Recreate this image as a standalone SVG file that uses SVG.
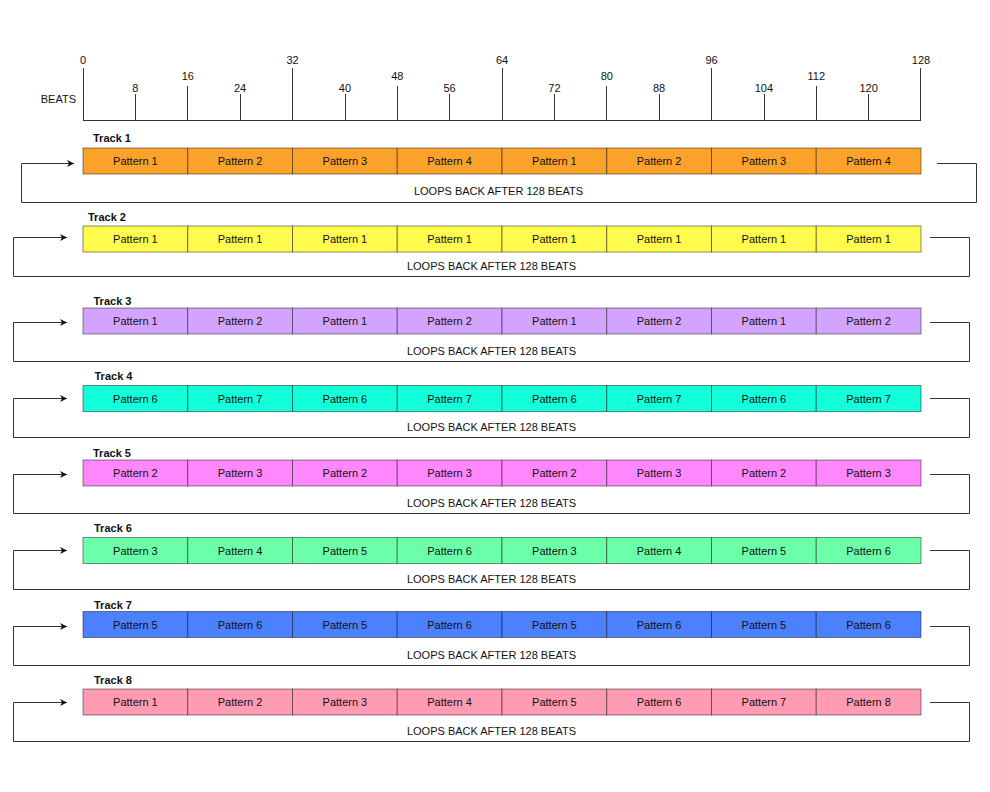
<svg xmlns="http://www.w3.org/2000/svg" width="990" height="792" viewBox="0 0 990 792">
<style>
  text { font-family: "Liberation Sans", Arial, sans-serif; font-size: 11px; fill: #111; }
  .mid { text-anchor: middle; }
  .lbl { font-weight: bold; }
  .tick { stroke: #333; stroke-width: 1; }
  .cell { stroke: #000; stroke-opacity: 0.45; stroke-width: 1; }
  .conn { fill: none; stroke: #333; stroke-width: 1; }
  .t1 { fill: #FBA22B; }
  .t2 { fill: #FFFA4E; }
  .t3 { fill: #D3A4FF; }
  .t4 { fill: #12FFDA; }
  .t5 { fill: #FF88FF; }
  .t6 { fill: #6BFFAA; }
  .t7 { fill: #4B80FF; }
  .t8 { fill: #FF9BB2; }
</style>
<defs>
  <marker id="arr" markerUnits="userSpaceOnUse" markerWidth="8" markerHeight="8" refX="7" refY="3.5" orient="auto">
    <path d="M0,0 L7,3.5 L0,7 L2,3.5 z" fill="#111"/>
  </marker>
  <g id="row">
    <rect x="83" y="0" width="104.75" height="26"/>
    <rect x="187.75" y="0" width="104.75" height="26"/>
    <rect x="292.5" y="0" width="104.75" height="26"/>
    <rect x="397.25" y="0" width="104.75" height="26"/>
    <rect x="502" y="0" width="104.75" height="26"/>
    <rect x="606.75" y="0" width="104.75" height="26"/>
    <rect x="711.5" y="0" width="104.75" height="26"/>
    <rect x="816.25" y="0" width="104.75" height="26"/>
  </g>
</defs>
<rect width="990" height="792" fill="#fff"/>

<g id="ruler">
  <line class="tick" x1="83" y1="120.5" x2="921" y2="120.5"/>
  <line class="tick" x1="83.5" y1="68" x2="83.5" y2="120"/>
  <line class="tick" x1="292.5" y1="68" x2="292.5" y2="120"/>
  <line class="tick" x1="502.5" y1="68" x2="502.5" y2="120"/>
  <line class="tick" x1="711.5" y1="68" x2="711.5" y2="120"/>
  <line class="tick" x1="920.5" y1="68" x2="920.5" y2="120"/>
  <line class="tick" x1="187.5" y1="86" x2="187.5" y2="120"/>
  <line class="tick" x1="397.5" y1="86" x2="397.5" y2="120"/>
  <line class="tick" x1="606.5" y1="86" x2="606.5" y2="120"/>
  <line class="tick" x1="816.5" y1="86" x2="816.5" y2="120"/>
  <line class="tick" x1="135.5" y1="94" x2="135.5" y2="120"/>
  <line class="tick" x1="240.5" y1="94" x2="240.5" y2="120"/>
  <line class="tick" x1="345.5" y1="94" x2="345.5" y2="120"/>
  <line class="tick" x1="449.5" y1="94" x2="449.5" y2="120"/>
  <line class="tick" x1="554.5" y1="94" x2="554.5" y2="120"/>
  <line class="tick" x1="659.5" y1="94" x2="659.5" y2="120"/>
  <line class="tick" x1="764.5" y1="94" x2="764.5" y2="120"/>
  <line class="tick" x1="868.5" y1="94" x2="868.5" y2="120"/>
  <text class="mid" x="83" y="63.5">0</text>
  <text class="mid" x="292.5" y="63.5">32</text>
  <text class="mid" x="502" y="63.5">64</text>
  <text class="mid" x="711.5" y="63.5">96</text>
  <text class="mid" x="921" y="63.5">128</text>
  <text class="mid" x="187.75" y="80">16</text>
  <text class="mid" x="397.25" y="80">48</text>
  <text class="mid" x="606.75" y="80">80</text>
  <text class="mid" x="816.25" y="80">112</text>
  <text class="mid" x="135.4" y="92">8</text>
  <text class="mid" x="240.1" y="92">24</text>
  <text class="mid" x="344.9" y="92">40</text>
  <text class="mid" x="449.6" y="92">56</text>
  <text class="mid" x="554.4" y="92">72</text>
  <text class="mid" x="659.1" y="92">88</text>
  <text class="mid" x="763.9" y="92">104</text>
  <text class="mid" x="868.6" y="92">120</text>
  <text x="76" y="103" text-anchor="end">BEATS</text>
</g>

<g id="track1">
  <text class="lbl" x="93" y="142">Track 1</text>
  <use href="#row" class="cell t1" y="148"/>
  <text class="mid" x="135.4" y="165">Pattern 1</text>
  <text class="mid" x="240.1" y="165">Pattern 2</text>
  <text class="mid" x="344.9" y="165">Pattern 3</text>
  <text class="mid" x="449.6" y="165">Pattern 4</text>
  <text class="mid" x="554.4" y="165">Pattern 1</text>
  <text class="mid" x="659.1" y="165">Pattern 2</text>
  <text class="mid" x="763.9" y="165">Pattern 3</text>
  <text class="mid" x="868.6" y="165">Pattern 4</text>
</g>
<g id="track2">
  <text class="lbl" x="88" y="221">Track 2</text>
  <use href="#row" class="cell t2" y="226"/>
  <text class="mid" x="135.4" y="243">Pattern 1</text>
  <text class="mid" x="240.1" y="243">Pattern 1</text>
  <text class="mid" x="344.9" y="243">Pattern 1</text>
  <text class="mid" x="449.6" y="243">Pattern 1</text>
  <text class="mid" x="554.4" y="243">Pattern 1</text>
  <text class="mid" x="659.1" y="243">Pattern 1</text>
  <text class="mid" x="763.9" y="243">Pattern 1</text>
  <text class="mid" x="868.6" y="243">Pattern 1</text>
</g>
<g id="track3">
  <text class="lbl" x="93.5" y="305">Track 3</text>
  <use href="#row" class="cell t3" y="308"/>
  <text class="mid" x="135.4" y="325">Pattern 1</text>
  <text class="mid" x="240.1" y="325">Pattern 2</text>
  <text class="mid" x="344.9" y="325">Pattern 1</text>
  <text class="mid" x="449.6" y="325">Pattern 2</text>
  <text class="mid" x="554.4" y="325">Pattern 1</text>
  <text class="mid" x="659.1" y="325">Pattern 2</text>
  <text class="mid" x="763.9" y="325">Pattern 1</text>
  <text class="mid" x="868.6" y="325">Pattern 2</text>
</g>
<g id="track4">
  <text class="lbl" x="94.5" y="380">Track 4</text>
  <use href="#row" class="cell t4" y="385.5"/>
  <text class="mid" x="135.4" y="402.5">Pattern 6</text>
  <text class="mid" x="240.1" y="402.5">Pattern 7</text>
  <text class="mid" x="344.9" y="402.5">Pattern 6</text>
  <text class="mid" x="449.6" y="402.5">Pattern 7</text>
  <text class="mid" x="554.4" y="402.5">Pattern 6</text>
  <text class="mid" x="659.1" y="402.5">Pattern 7</text>
  <text class="mid" x="763.9" y="402.5">Pattern 6</text>
  <text class="mid" x="868.6" y="402.5">Pattern 7</text>
</g>
<g id="track5">
  <text class="lbl" x="93" y="457">Track 5</text>
  <use href="#row" class="cell t5" y="460"/>
  <text class="mid" x="135.4" y="477">Pattern 2</text>
  <text class="mid" x="240.1" y="477">Pattern 3</text>
  <text class="mid" x="344.9" y="477">Pattern 2</text>
  <text class="mid" x="449.6" y="477">Pattern 3</text>
  <text class="mid" x="554.4" y="477">Pattern 2</text>
  <text class="mid" x="659.1" y="477">Pattern 3</text>
  <text class="mid" x="763.9" y="477">Pattern 2</text>
  <text class="mid" x="868.6" y="477">Pattern 3</text>
</g>
<g id="track6">
  <text class="lbl" x="94" y="532">Track 6</text>
  <use href="#row" class="cell t6" y="537.5"/>
  <text class="mid" x="135.4" y="554.5">Pattern 3</text>
  <text class="mid" x="240.1" y="554.5">Pattern 4</text>
  <text class="mid" x="344.9" y="554.5">Pattern 5</text>
  <text class="mid" x="449.6" y="554.5">Pattern 6</text>
  <text class="mid" x="554.4" y="554.5">Pattern 3</text>
  <text class="mid" x="659.1" y="554.5">Pattern 4</text>
  <text class="mid" x="763.9" y="554.5">Pattern 5</text>
  <text class="mid" x="868.6" y="554.5">Pattern 6</text>
</g>
<g id="track7">
  <text class="lbl" x="94" y="609">Track 7</text>
  <use href="#row" class="cell t7" y="611.5"/>
  <text class="mid" x="135.4" y="628.5">Pattern 5</text>
  <text class="mid" x="240.1" y="628.5">Pattern 6</text>
  <text class="mid" x="344.9" y="628.5">Pattern 5</text>
  <text class="mid" x="449.6" y="628.5">Pattern 6</text>
  <text class="mid" x="554.4" y="628.5">Pattern 5</text>
  <text class="mid" x="659.1" y="628.5">Pattern 6</text>
  <text class="mid" x="763.9" y="628.5">Pattern 5</text>
  <text class="mid" x="868.6" y="628.5">Pattern 6</text>
</g>
<g id="track8">
  <text class="lbl" x="94" y="684">Track 8</text>
  <use href="#row" class="cell t8" y="689"/>
  <text class="mid" x="135.4" y="706">Pattern 1</text>
  <text class="mid" x="240.1" y="706">Pattern 2</text>
  <text class="mid" x="344.9" y="706">Pattern 3</text>
  <text class="mid" x="449.6" y="706">Pattern 4</text>
  <text class="mid" x="554.4" y="706">Pattern 5</text>
  <text class="mid" x="659.1" y="706">Pattern 6</text>
  <text class="mid" x="763.9" y="706">Pattern 7</text>
  <text class="mid" x="868.6" y="706">Pattern 8</text>
</g>

<g id="connectors">
  <path class="conn" marker-end="url(#arr)" d="M937,163.5 H976.5 V202.5 H21.5 V163.5 H74"/>
  <path class="conn" marker-end="url(#arr)" d="M930,237.5 H969.5 V276.5 H13.5 V237.5 H67"/>
  <path class="conn" marker-end="url(#arr)" d="M930,322.5 H969.5 V361.5 H13.5 V322.5 H67"/>
  <path class="conn" marker-end="url(#arr)" d="M930,398.5 H969.5 V437.5 H13.5 V398.5 H67"/>
  <path class="conn" marker-end="url(#arr)" d="M930,474.5 H969.5 V513.5 H13.5 V474.5 H67"/>
  <path class="conn" marker-end="url(#arr)" d="M930,550.5 H969.5 V589.5 H13.5 V550.5 H67"/>
  <path class="conn" marker-end="url(#arr)" d="M930,626.5 H969.5 V665.5 H13.5 V626.5 H67"/>
  <path class="conn" marker-end="url(#arr)" d="M930,702.5 H969.5 V741.5 H13.5 V702.5 H67"/>
  <text class="mid" x="498.5" y="195">LOOPS BACK AFTER 128 BEATS</text>
  <text class="mid" x="491.5" y="270">LOOPS BACK AFTER 128 BEATS</text>
  <text class="mid" x="491.5" y="355">LOOPS BACK AFTER 128 BEATS</text>
  <text class="mid" x="491.5" y="431">LOOPS BACK AFTER 128 BEATS</text>
  <text class="mid" x="491.5" y="507">LOOPS BACK AFTER 128 BEATS</text>
  <text class="mid" x="491.5" y="583">LOOPS BACK AFTER 128 BEATS</text>
  <text class="mid" x="491.5" y="659">LOOPS BACK AFTER 128 BEATS</text>
  <text class="mid" x="491.5" y="735">LOOPS BACK AFTER 128 BEATS</text>
</g>
</svg>
